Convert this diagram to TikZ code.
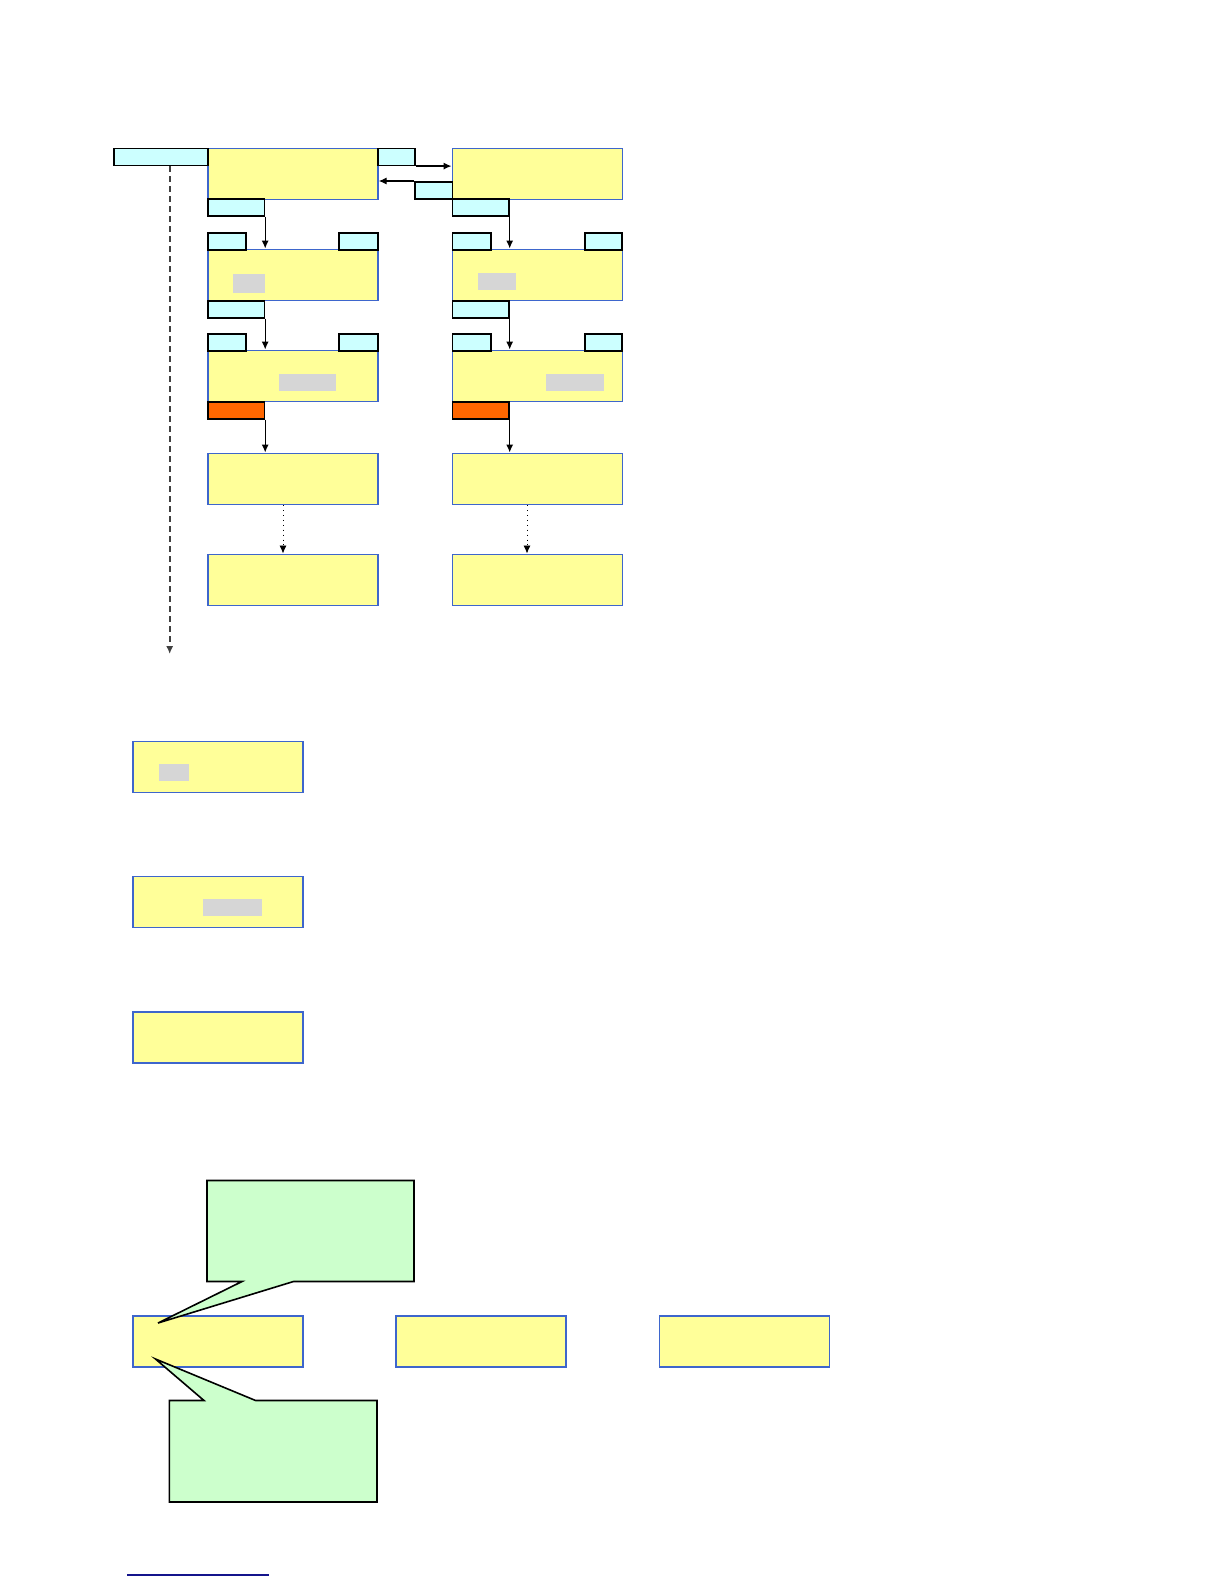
\documentclass[tikz,border=0pt]{standalone}
\usetikzlibrary{arrows.meta}
\definecolor{ylw}{RGB}{255,255,153}
\definecolor{bbl}{RGB}{62,102,204}
\definecolor{cyn}{RGB}{204,255,255}
\definecolor{orng}{RGB}{255,102,0}
\definecolor{gry}{RGB}{214,214,214}
\definecolor{grn}{RGB}{204,255,204}
\definecolor{navy}{RGB}{20,20,140}
\begin{document}
\begin{tikzpicture}[x=0.5pt,y=-0.5pt,
  ybox/.style={fill=ylw,draw=bbl,line width=0.85pt,inner sep=0pt,minimum width=85pt,minimum height=25.5pt,anchor=north west},
  tab/.style={fill=cyn,draw=black,line width=0.8pt,inner sep=0pt,minimum height=8.5pt,anchor=north west},
  otab/.style={tab,fill=orng},
  gbox/.style={fill=gry,draw=none,inner sep=0pt,anchor=north west},
  arr/.style={-{Latex[length=4pt,width=3.6pt]},line width=0.65pt,black},
  dotarr/.style={-{Latex[length=4pt,width=3.6pt]},line width=0.45pt,dotted,black},
  dsh/.style={-{Latex[length=4pt,width=3.6pt]},line width=0.8pt,dash pattern=on 3pt off 2pt,black!75},
  callout/.style={fill=grn,draw=black,line width=0.8pt,line join=miter}]
\useasboundingbox (0,0) rectangle (1224,1584);

% ---- column A boxes
\node[ybox] (A1) at (207,147.5) {};
\node[ybox] (A2) at (207,248.5) {};
\node[ybox] (A3) at (207,349.5) {};
\node[ybox] (A4) at (207,452.5) {};
\node[ybox] (A5) at (207,553.5) {};
% ---- column B boxes
\node[ybox] (B1) at (451.5,147.5) {};
\node[ybox] (B2) at (451.5,248.5) {};
\node[ybox] (B3) at (451.5,349.5) {};
\node[ybox] (B4) at (451.5,452.5) {};
\node[ybox] (B5) at (451.5,553.5) {};

% ---- gray fields
\node[gbox,minimum width=16pt,minimum height=9.5pt] (gA2) at (233,274) {};
\node[gbox,minimum width=28.5pt,minimum height=8.5pt] (gA3) at (279,374) {};
\node[gbox,minimum width=19pt,minimum height=8.2pt] (gB2) at (478,273) {};
\node[gbox,minimum width=29pt,minimum height=8.5pt] (gB3) at (546,374) {};

% ---- tabs
\node[tab,minimum width=47pt] (tl) at (113,147.5) {};
\node[tab,minimum width=18.5pt] (A1r) at (377,147.5) {};
\node[tab,minimum width=18.75pt] (B1l) at (414,181) {};
\node[tab,minimum width=28.3pt] (A1b) at (207,198) {};
\node[tab,minimum width=19.2pt] (A2l) at (207,232) {};
\node[tab,minimum width=19.5pt] (A2r) at (338,232) {};
\node[tab,minimum width=28.3pt] (A2b) at (207,300) {};
\node[tab,minimum width=19.2pt] (A3l) at (207,333) {};
\node[tab,minimum width=19.5pt] (A3r) at (338,333) {};
\node[otab,minimum width=28.3pt] (A3b) at (207,401) {};
\node[tab,minimum width=28.3pt] (B1b) at (451.5,198) {};
\node[tab,minimum width=19.2pt] (B2l) at (451.5,232) {};
\node[tab,minimum width=18.5pt] (B2r) at (584,232) {};
\node[tab,minimum width=28.3pt] (B2b) at (451.5,300) {};
\node[tab,minimum width=19.2pt] (B3l) at (451.5,333) {};
\node[tab,minimum width=18.5pt] (B3r) at (584,333) {};
\node[otab,minimum width=28.3pt] (B3b) at (451.5,401) {};

% ---- connectors
\draw[arr] (A1r.south east) -- (B1.west |- A1r.south east);
\draw[arr] (B1l.north west) -- (A1.east |- B1l.north west);
\draw[arr] (A1b.south east) -- (A1b.south east |- A2.north);
\draw[arr] (A2b.south east) -- (A2b.south east |- A3.north);
\draw[arr] (A3b.south east) -- (A3b.south east |- A4.north);
\draw[arr] (B1b.south east) -- (B1b.south east |- B2.north);
\draw[arr] (B2b.south east) -- (B2b.south east |- B3.north);
\draw[arr] (B3b.south east) -- (B3b.south east |- B4.north);
\coordinate (da) at (283,0);
\coordinate (db) at (527,0);
\draw[dotarr] (A4.south -| da) -- (A5.north -| da);
\draw[dotarr] (B4.south -| db) -- (B5.north -| db);
\coordinate (dend) at (169.7,654);
\draw[dsh] (tl.south -| dend) -- (dend);

% ---- left column boxes
\node[ybox] (C1) at (132,740.5) {};
\node[ybox] (C2) at (132,875.5) {};
\node[ybox] (C3) at (132,1011) {};
\node[gbox,minimum width=15pt,minimum height=8.3pt] (gC1) at (158.3,764) {};
\node[gbox,minimum width=29.5pt,minimum height=8.3pt] (gC2) at (203,899) {};

% ---- bottom row
\node[ybox] (D1) at (132,1315) {};
\node[ybox] (D2) at (395,1315) {};
\node[ybox] (D3) at (658.5,1315) {};

% ---- callouts
\draw[callout] (207,1180.5) -- (414,1180.5) -- (414,1281.5) -- (293.5,1281.5)
  -- (158,1323) -- (242,1281.5) -- (207,1281.5) -- cycle;
\draw[callout] (169.4,1400.5) -- (204,1400.5) -- (155.5,1359) -- (255.6,1400.5)
  -- (377,1400.5) -- (377,1502) -- (169.4,1502) -- cycle;

% ---- bottom rule
\draw[navy,line width=0.8pt] (127,1575) -- (269,1575);
\end{tikzpicture}
\end{document}
